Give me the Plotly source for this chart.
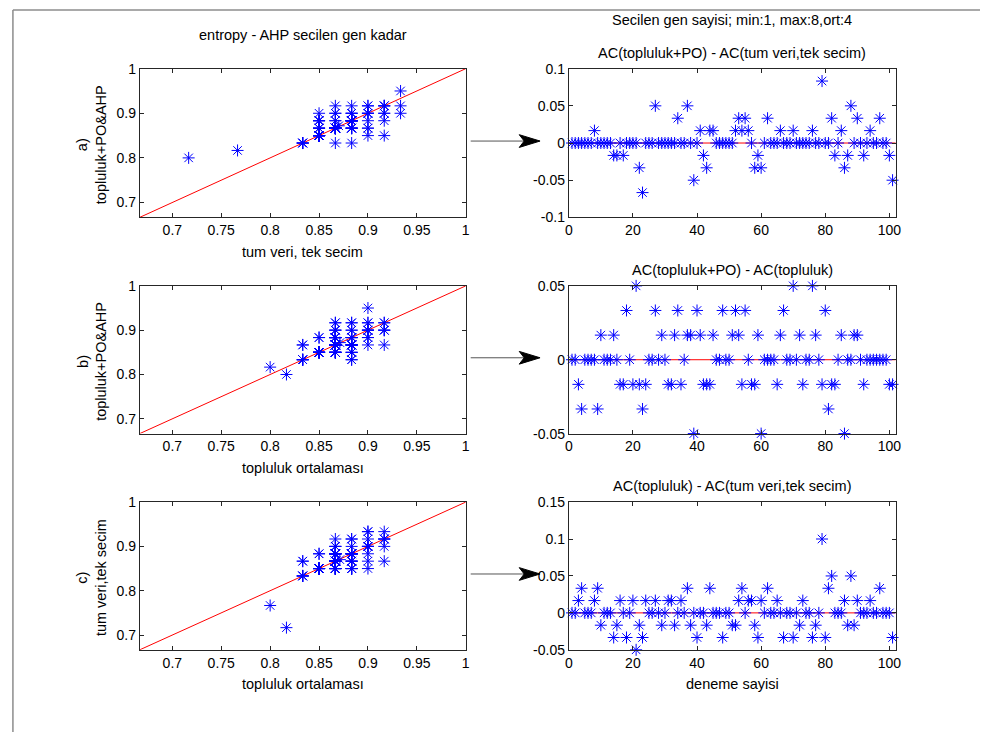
import numpy as np
import plotly.graph_objects as go

# Correctly classified test samples (out of N_TEST) for each of the 101 trials
N_TEST = 60
dogru_tum_veri = [
    51, 52, 51, 51, 51, 54, 51, 51, 52, 53,
    50, 51, 52, 56, 53, 51, 53, 52, 52, 51,
    55, 56, 55, 51, 51, 52, 52, 51, 53, 53,
    52, 51, 53, 53, 51, 50, 46, 53, 53, 53,
    52, 54, 54, 51, 53, 51, 52, 54, 51, 53,
    53, 53, 51, 51, 52, 53, 51, 55, 55, 52,
    52, 51, 50, 53, 52, 54, 53, 54, 51, 56,
    52, 53, 51, 51, 52, 54, 53, 55, 43, 52,
    51, 52, 55, 51, 52, 54, 53, 51, 53, 51,
    52, 53, 53, 51, 50, 55, 51, 51, 52, 53,
    54]
dogru_topluluk_ort = [
    51, 52, 52, 53, 51, 54, 51, 52, 54, 52,
    50, 51, 52, 54, 52, 52, 53, 50, 52, 52,
    52, 55, 53, 52, 51, 52, 53, 51, 52, 53,
    53, 52, 52, 53, 52, 50, 48, 52, 53, 51,
    52, 54, 53, 53, 53, 51, 52, 52, 51, 53,
    52, 52, 52, 53, 52, 54, 52, 54, 53, 53,
    52, 53, 50, 53, 53, 54, 51, 54, 51, 54,
    52, 52, 52, 51, 52, 52, 52, 55, 49, 50,
    53, 55, 55, 51, 52, 55, 52, 54, 52, 52,
    52, 53, 53, 52, 50, 55, 53, 51, 52, 53,
    52]
dogru_topluluk_po_ahp = [
    51, 52, 51, 51, 51, 54, 51, 52, 52, 53,
    50, 51, 52, 55, 52, 51, 52, 52, 52, 51,
    55, 54, 51, 51, 51, 52, 55, 51, 53, 53,
    52, 51, 53, 55, 51, 50, 49, 53, 50, 53,
    53, 53, 52, 52, 54, 51, 52, 54, 51, 53,
    53, 54, 53, 52, 54, 54, 51, 53, 54, 50,
    52, 53, 50, 53, 52, 55, 53, 54, 51, 57,
    52, 53, 51, 51, 52, 55, 53, 55, 48, 52,
    51, 54, 54, 51, 53, 52, 52, 54, 53, 53,
    52, 52, 53, 52, 50, 55, 53, 51, 52, 52,
    51]

# Axis ticks
acc_ticks = [0.7, 0.75, 0.8, 0.85, 0.9, 0.95, 1]
acc_ticktext = ["0.7", "0.75", "0.8", "0.85", "0.9", "0.95", "1"]
acc_yticks = [0.7, 0.8, 0.9, 1]
acc_yticktext = ["0.7", "0.8", "0.9", "1"]
trial_ticks = [0, 20, 40, 60, 80, 100]
diff_ticks = [
    ([-0.1, -0.05, 0, 0.05, 0.1], ["-0.1", "-0.05", "0", "0.05", "0.1"]),
    ([-0.05, 0, 0.05], ["-0.05", "0", "0.05"]),
    ([-0.05, 0, 0.05, 0.1, 0.15], ["-0.05", "0", "0.05", "0.1", "0.15"]),
]
diff_ranges = [[-0.1, 0.1], [-0.05, 0.05], [-0.05, 0.15]]
acc_range = [2 / 3, 1]
trial_range = [0, 102]

T = np.array(dogru_tum_veri) / N_TEST
P = np.array(dogru_topluluk_ort) / N_TEST
A = np.array(dogru_topluluk_po_ahp) / N_TEST
trial = np.arange(1, len(T) + 1)

scatter_pairs = [(T, A), (P, A), (P, T)]
diffs = [A - T, A - P, P - T]

W, H = 985, 740
FONT = "Liberation Sans, Arial, Helvetica, sans-serif"
TEXT_SIZE = 14.5
TICK_SIZE = 14
STAR = dict(symbol="asterisk-open", size=10, color="#0000ff",
            line=dict(color="#0000ff", width=1))


def px(x):
    return x / W


def py(y):
    return 1 - y / H


# axis boxes in pixels
left_x = (137, 466)
right_x = (570, 900)
rows = [(62, 214), (284, 435), (505, 656)]

fig = go.Figure()
layout = dict(
    width=W, height=H, margin=dict(l=0, r=0, t=0, b=0),
    paper_bgcolor="white", plot_bgcolor="white", showlegend=False,
    font=dict(family=FONT, size=12, color="black"),
)

axis_common = dict(showgrid=False, zeroline=False, showline=True, linecolor="#262626",
                   linewidth=1, mirror="ticks", ticks="inside", ticklen=4,
                   tickcolor="#262626",
                   tickfont=dict(family=FONT, size=TICK_SIZE, color="black"))

for i, (top, bot) in enumerate(rows):
    ydom = [py(bot), py(top)]
    nl = 2 * i + 1
    nr = 2 * i + 2
    xl, yl = f"x{nl}", f"y{nl}"
    xr, yr = f"x{nr}", f"y{nr}"

    layout[f"xaxis{nl}"] = dict(axis_common, domain=[px(left_x[0]), px(left_x[1])],
                                anchor=yl, range=acc_range,
                                tickvals=acc_ticks, ticktext=acc_ticktext)
    layout[f"yaxis{nl}"] = dict(axis_common, domain=ydom, anchor=xl, range=acc_range,
                                tickvals=acc_yticks, ticktext=acc_yticktext)
    layout[f"xaxis{nr}"] = dict(axis_common, domain=[px(right_x[0]), px(right_x[1])],
                                anchor=yr, range=trial_range, tickvals=trial_ticks)
    layout[f"yaxis{nr}"] = dict(axis_common, domain=ydom, anchor=xr, range=diff_ranges[i],
                                tickvals=diff_ticks[i][0], ticktext=diff_ticks[i][1])

    xs, ys = scatter_pairs[i]
    # diagonal reference line
    fig.add_trace(go.Scatter(x=acc_range, y=acc_range, mode="lines",
                             line=dict(color="#ff0000", width=1), xaxis=xl, yaxis=yl))
    fig.add_trace(go.Scatter(x=xs, y=ys, mode="markers", marker=STAR,
                             cliponaxis=False, xaxis=xl, yaxis=yl))
    # mean of all trials
    fig.add_trace(go.Scatter(x=[xs.mean()], y=[ys.mean()], mode="markers", marker=STAR,
                             cliponaxis=False, xaxis=xl, yaxis=yl))

    # zero line and per-trial difference
    fig.add_trace(go.Scatter(x=trial_range, y=[0, 0], mode="lines",
                             line=dict(color="#ff0000", width=1), xaxis=xr, yaxis=yr))
    fig.add_trace(go.Scatter(x=trial, y=diffs[i], mode="markers", marker=STAR,
                             cliponaxis=False, xaxis=xr, yaxis=yr))

annotations = []


def text(x, y, s, angle=0):
    annotations.append(dict(x=px(x), y=py(y), xref="paper", yref="paper", text=s,
                            showarrow=False, xanchor="center", yanchor="middle",
                            textangle=angle,
                            font=dict(family=FONT, size=TEXT_SIZE, color="black")))


lc = (left_x[0] + left_x[1]) / 2
rc = (right_x[0] + right_x[1]) / 2
text(lc, 28, "entropy - AHP secilen gen kadar")
text(rc, 12, "Secilen gen sayisi; min:1, max:8,ort:4")
right_titles = ["AC(topluluk+PO) - AC(tum veri,tek secim)",
                "AC(topluluk+PO) - AC(topluluk)",
                "AC(topluluk) - AC(tum veri,tek secim)"]
left_xlabels = ["tum veri, tek secim", "topluluk ortalaması", "topluluk ortalaması"]
left_ylabels = ["a)<br>topluluk+PO&AHP", "b)<br>topluluk+PO&AHP", "c)<br>tum veri,tek secim"]
for i, (top, bot) in enumerate(rows):
    text(rc, top - 16, right_titles[i])
    text(lc, bot + 35, left_xlabels[i])
    text(89, (top + bot) / 2 + 2, left_ylabels[i], angle=-90)
text(rc, rows[2][1] + 35, "deneme sayisi")

shapes = [
    # figure frame (top and left edges)
    dict(type="line", xref="paper", yref="paper", x0=px(9), x1=1, y0=py(2), y1=py(2),
         line=dict(color="#8c8c8c", width=1.5)),
    dict(type="line", xref="paper", yref="paper", x0=px(9), x1=px(9), y0=py(2), y1=0,
         line=dict(color="#8c8c8c", width=1.5)),
]
# arrows linking each scatter to its difference plot
for top, bot in rows:
    yc = (top + bot) / 2 - 2
    x0, x1 = 471, 541
    shapes.append(dict(type="line", xref="paper", yref="paper", x0=px(x0), x1=px(x1 - 15),
                       y0=py(yc), y1=py(yc), line=dict(color="#555555", width=1)))
    path = (f"M {px(x1)} {py(yc)} L {px(x1 - 21)} {py(yc - 6.5)} "
            f"L {px(x1 - 16)} {py(yc)} L {px(x1 - 21)} {py(yc + 6.5)} Z")
    shapes.append(dict(type="path", xref="paper", yref="paper", path=path,
                       fillcolor="black", line=dict(color="black", width=1)))

layout["annotations"] = annotations
layout["shapes"] = shapes
fig.update_layout(**layout)
fig.write_html("out.html")
